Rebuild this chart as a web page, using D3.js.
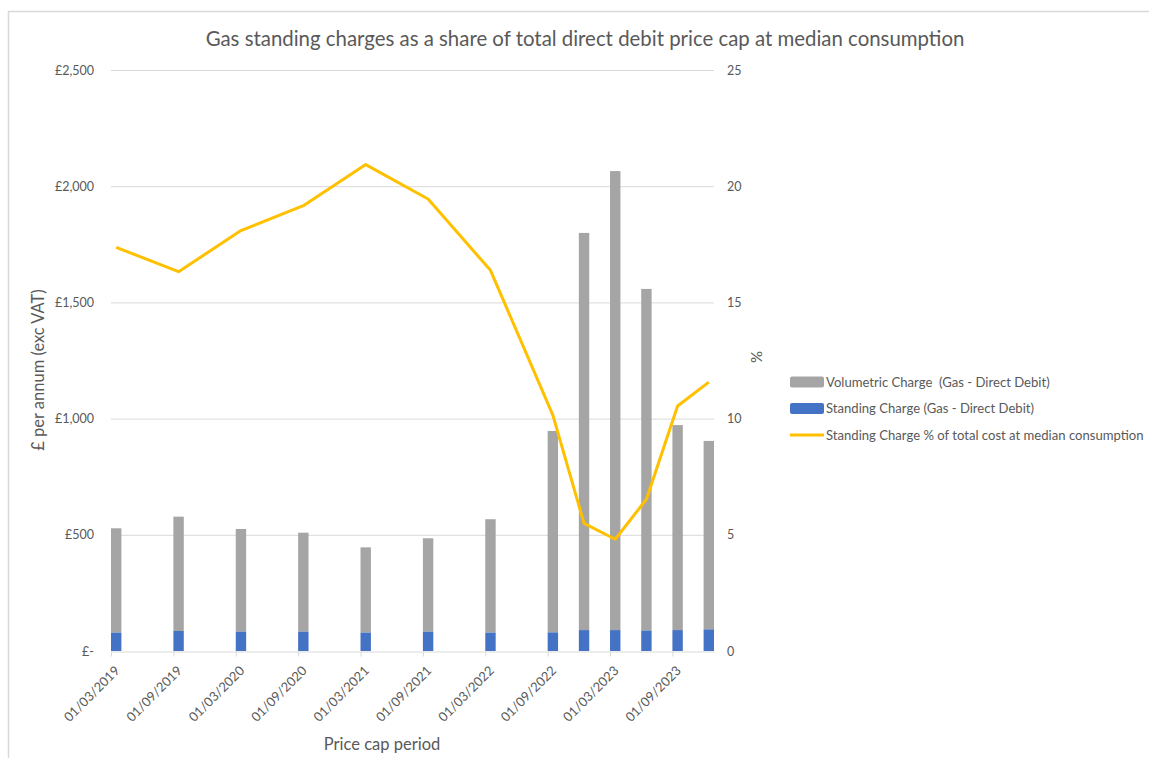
<!DOCTYPE html>
<html>
<head>
<meta charset="utf-8">
<script src="https://cdn.jsdelivr.net/npm/d3@7"></script>
<style>
  body { margin: 0; background: #fff; }
  text { font-family: Lato, "Open Sans", sans-serif; fill: #595959; }
</style>
</head>
<body>
<div id="chart"></div>
<script>
'use strict';

// price cap periods (month the period is plotted at)
const periods = ["2019-03", "2019-09", "2020-03", "2020-09", "2021-03", "2021-09", "2022-03",
                 "2022-09", "2022-12", "2023-03", "2023-06", "2023-09", "2023-12"];
const standingCharge = [79, 86, 83, 83, 79, 83, 79, 80, 90, 90, 88, 90, 93];
const volumetricCharge = [449, 492, 442, 426, 367, 402, 488, 867, 1709, 1975, 1470, 882, 811];
const standingShare = [17.37, 16.32, 18.09, 19.16, 20.93, 19.45, 16.38, 10.15, 5.49, 4.81, 6.53, 10.54, 11.57];

const xTickMonths = ["2019-03", "2019-09", "2020-03", "2020-09", "2021-03", "2021-09",
                     "2022-03", "2022-09", "2023-03", "2023-09"];
const xTickLabels = ["01/03/2019", "01/09/2019", "01/03/2020", "01/09/2020", "01/03/2021",
                     "01/09/2021", "01/03/2022", "01/09/2022", "01/03/2023", "01/09/2023"];
const leftTicks = [0, 500, 1000, 1500, 2000, 2500];
const leftTickLabels = ["£-", "£500", "£1,000", "£1,500", "£2,000", "£2,500"];
const rightTicks = [0, 5, 10, 15, 20, 25];

const width = 1149, height = 758;
const plot = { left: 111, right: 714, top: 70, bottom: 651 };

// month index counted from the start of the axis (Mar 2019)
function monthIndex(s) {
  const [y, m] = s.split("-").map(Number);
  return (y - 2019) * 12 + (m - 3);
}

const svg = d3.select("#chart").append("svg").attr("width", width).attr("height", height);

// chart frame
svg.append("path")
  .attr("d", "M8.5," + height + " V11.5 H" + width)
  .attr("fill", "none").attr("stroke", "#d9d9d9").attr("stroke-width", 1.5);

const x = d3.scaleLinear().domain([0, 58]).range([plot.left, plot.right]);
const yL = d3.scaleLinear().domain([0, 2500]).range([plot.bottom, plot.top]);
const yR = d3.scaleLinear().domain([0, 25]).range([plot.bottom, plot.top]);

// gridlines
svg.append("g").selectAll("line").data(leftTicks.slice(1)).join("line")
  .attr("x1", plot.left).attr("x2", plot.right)
  .attr("y1", d => yL(d) + 0.5).attr("y2", d => yL(d) + 0.5)
  .attr("stroke", "#d9d9d9").attr("stroke-width", 1);

// bars
const bars = svg.append("g");
periods.forEach(function (p, i) {
  const m = monthIndex(p);
  const bx = x(m), bw = x(m + 1) - x(m);
  bars.append("rect")
    .attr("x", bx).attr("width", bw)
    .attr("y", yL(standingCharge[i] + volumetricCharge[i]))
    .attr("height", yL(standingCharge[i]) - yL(standingCharge[i] + volumetricCharge[i]))
    .attr("fill", "#a5a5a5");
  bars.append("rect")
    .attr("x", bx).attr("width", bw)
    .attr("y", yL(standingCharge[i]))
    .attr("height", yL(0) - yL(standingCharge[i]))
    .attr("fill", "#4472c4");
});

// x axis
const xAxis = d3.axisBottom(x)
  .tickValues(xTickMonths.map(monthIndex))
  .tickFormat((d, i) => xTickLabels[i])
  .tickSize(5).tickSizeOuter(0);
const gx = svg.append("g").attr("transform", "translate(0," + (plot.bottom + 0.5) + ")").call(xAxis);
gx.select(".domain").attr("stroke", "#d9d9d9");
gx.selectAll(".tick line").attr("stroke", "#d9d9d9");
gx.selectAll(".tick text")
  .attr("font-size", 13).attr("fill", "#595959")
  .attr("text-anchor", "end")
  .attr("y", 0).attr("dy", 0)
  .attr("transform", "translate(9,20) rotate(-45)");

// left axis
const gl = svg.append("g").attr("transform", "translate(" + (plot.left - 14) + ",0)")
  .call(d3.axisLeft(yL).tickValues(leftTicks).tickFormat((d, i) => leftTickLabels[i]).tickSize(0));
gl.select(".domain").remove();
gl.selectAll("text").attr("font-size", 12.5).attr("fill", "#595959");

// right axis
const gr = svg.append("g").attr("transform", "translate(" + (plot.right + 13) + ",0)")
  .call(d3.axisRight(yR).tickValues(rightTicks).tickSize(0));
gr.select(".domain").remove();
gr.selectAll("text").attr("font-size", 12.5).attr("fill", "#595959").attr("x", 0);

// share line
const line = d3.line()
  .x((d, i) => x(monthIndex(periods[i]) + 0.5))
  .y(d => yR(d));
svg.append("path").datum(standingShare)
  .attr("d", line)
  .attr("fill", "none").attr("stroke", "#ffc000").attr("stroke-width", 3)
  .attr("stroke-linejoin", "round");

// titles
svg.append("text").attr("x", 585).attr("y", 46).attr("text-anchor", "middle")
  .attr("font-size", 20.4).text("Gas standing charges as a share of total direct debit price cap at median consumption");
svg.append("text").attr("x", 382).attr("y", 750).attr("text-anchor", "middle")
  .attr("font-size", 16.5).text("Price cap period");
svg.append("text").attr("transform", "translate(44,370) rotate(-90)").attr("text-anchor", "middle")
  .attr("font-size", 16.5).text("£ per annum (exc VAT)");
svg.append("text").attr("transform", "translate(762,357) rotate(-90)").attr("text-anchor", "middle")
  .attr("font-size", 15).text("%");

// legend
const legendItems = [
  { label: "Volumetric Charge  (Gas - Direct Debit)", color: "#a5a5a5", type: "bar" },
  { label: "Standing Charge (Gas - Direct Debit)", color: "#4472c4", type: "bar" },
  { label: "Standing Charge % of total cost at median consumption", color: "#ffc000", type: "line" }
];
const legend = svg.append("g").attr("transform", "translate(790,382)");
legendItems.forEach(function (d, i) {
  const g = legend.append("g").attr("transform", "translate(0," + (i * 26.5) + ")");
  if (d.type === "bar") {
    g.append("rect").attr("x", 0).attr("y", -5.5).attr("width", 34).attr("height", 11)
      .attr("rx", 2).attr("fill", d.color);
  } else {
    g.append("line").attr("x1", 0).attr("x2", 34).attr("y1", 0).attr("y2", 0)
      .attr("stroke", d.color).attr("stroke-width", 3);
  }
  g.append("text").attr("x", 36).attr("y", 4.5).attr("font-size", 13.1)
    .style("white-space", "pre").text(d.label);
});
</script>
</body>
</html>
